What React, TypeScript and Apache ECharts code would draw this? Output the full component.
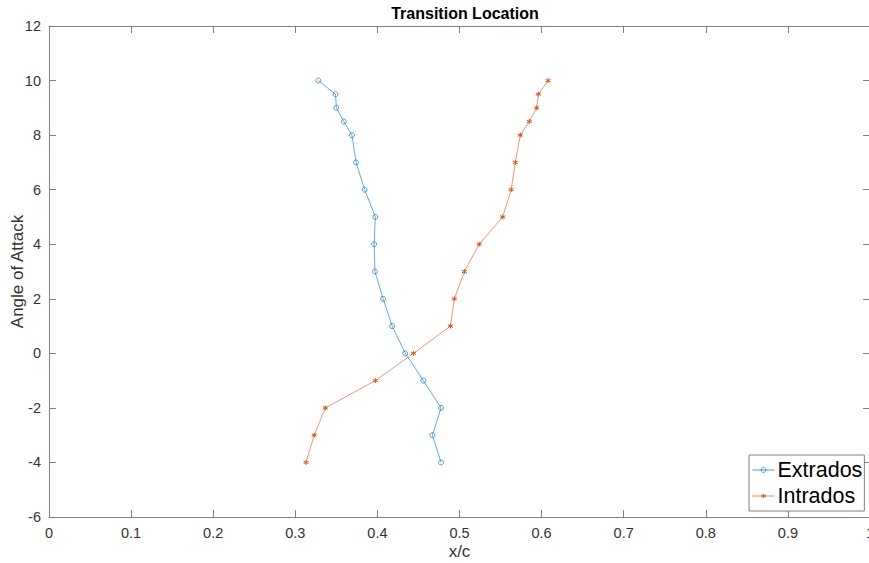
import React, { useEffect, useRef } from "react";
import * as echarts from "echarts";

const angles = [10, 9.5, 9, 8.5, 8, 7, 6, 5, 4, 3, 2, 1, 0, -1, -2, -3, -4];
const extradosX = [0.328, 0.349, 0.350, 0.359, 0.369, 0.374, 0.3845, 0.3975, 0.396, 0.397, 0.407, 0.418, 0.434, 0.456, 0.4775, 0.467, 0.4775];
const intradosX = [0.608, 0.596, 0.594, 0.585, 0.574, 0.568, 0.563, 0.5526, 0.524, 0.506, 0.4937, 0.489, 0.444, 0.3975, 0.3366, 0.323, 0.313];
const seriesNames = ["Extrados", "Intrados"];
const titleText = "Transition Location";
const xLabel = "x/c";
const yLabel = "Angle of Attack";

const BLUE = "#0072BD";
const RED = "#D95319";
const AXIS = "#808080";
const TXT = "#333333";
const FONT = "Liberation Sans, Arial, Helvetica, sans-serif";

export default function App() {
  const ref = useRef<HTMLDivElement>(null);
  useEffect(() => {
    const chart = echarts.init(ref.current!, null, { renderer: "svg" });
    const pair = (xs: number[]) => xs.map((x, i) => [x, angles[i]]);
    const axisCommon = {
      axisLine: { show: true, onZero: false, lineStyle: { color: AXIS, width: 1 } },
      axisTick: { show: true, inside: true, length: 7, lineStyle: { color: AXIS } },
      splitLine: { show: false },
    };
    chart.setOption({
      animation: false,
      backgroundColor: "#ffffff",
      title: {
        text: titleText,
        left: 460,
        top: 0,
        textAlign: "center",
        textStyle: { fontFamily: FONT, fontSize: 16, fontWeight: "bold", color: "#000" },
      },
      grid: { left: 49, top: 26, width: 821, height: 491, containLabel: false, outerBoundsMode: "none" },
      xAxis: [
        {
          type: "value",
          min: 0,
          max: 1,
          interval: 0.1,
          position: "bottom",
          ...axisCommon,
          axisLabel: { color: TXT, fontFamily: FONT, fontSize: 14.5, margin: 8 },
          name: xLabel,
          nameLocation: "middle",
          nameGap: 26,
          nameMoveOverlap: false,
          nameTextStyle: { color: TXT, fontFamily: FONT, fontSize: 17, verticalAlign: "top" },
        },
        {
          type: "value",
          min: 0,
          max: 1,
          interval: 0.1,
          position: "top",
          ...axisCommon,
          axisLabel: { show: false },
        },
      ],
      yAxis: [
        {
          type: "value",
          min: -6,
          max: 12,
          interval: 2,
          position: "left",
          ...axisCommon,
          axisLabel: { color: TXT, fontFamily: FONT, fontSize: 14.5, margin: 8 },
          name: yLabel,
          nameLocation: "middle",
          nameGap: 23,
          nameMoveOverlap: false,
          nameTextStyle: { color: TXT, fontFamily: FONT, fontSize: 17 },
        },
        {
          type: "value",
          min: -6,
          max: 12,
          interval: 2,
          position: "right",
          ...axisCommon,
          axisLabel: { show: false },
        },
      ],
      legend: {
        left: 749,
        top: 455,
        orient: "vertical",
        backgroundColor: "#ffffff",
        borderColor: AXIS,
        borderWidth: 1,
        borderRadius: 0,
        padding: [4, 2, 4, 3],
        itemGap: 4,
        itemWidth: 22,
        itemHeight: 6,
        lineStyle: { width: 1, opacity: 0.7 },
        itemStyle: { borderWidth: 0.8 },
        textStyle: { fontFamily: FONT, fontSize: 21.5, color: "#000", padding: [0, 0, 0, -2] },
        data: seriesNames,
      },
      series: [
        {
          name: seriesNames[0],
          type: "line",
          data: pair(extradosX),
          symbol: "circle",
          symbolSize: 5,
          lineStyle: { color: BLUE, width: 0.7, opacity: 0.85 },
          itemStyle: { color: "rgba(255,255,255,0)", borderColor: BLUE, borderWidth: 0.8, opacity: 0.85 },
        },
        {
          name: seriesNames[1],
          type: "line",
          data: pair(intradosX),
          symbol: "path://M0,-5L0,5M-4.3,-2.5L4.3,2.5M-4.3,2.5L4.3,-2.5",
          symbolSize: 5,
          lineStyle: { color: RED, width: 0.7, opacity: 0.85 },
          itemStyle: { color: RED, borderColor: RED, borderWidth: 1 },
        },
      ],
    });
    return () => chart.dispose();
  }, []);
  return (
    <div
      ref={ref}
      style={{ position: "fixed", left: 0, top: 0, width: 869, height: 563 }}
    />
  );
}
